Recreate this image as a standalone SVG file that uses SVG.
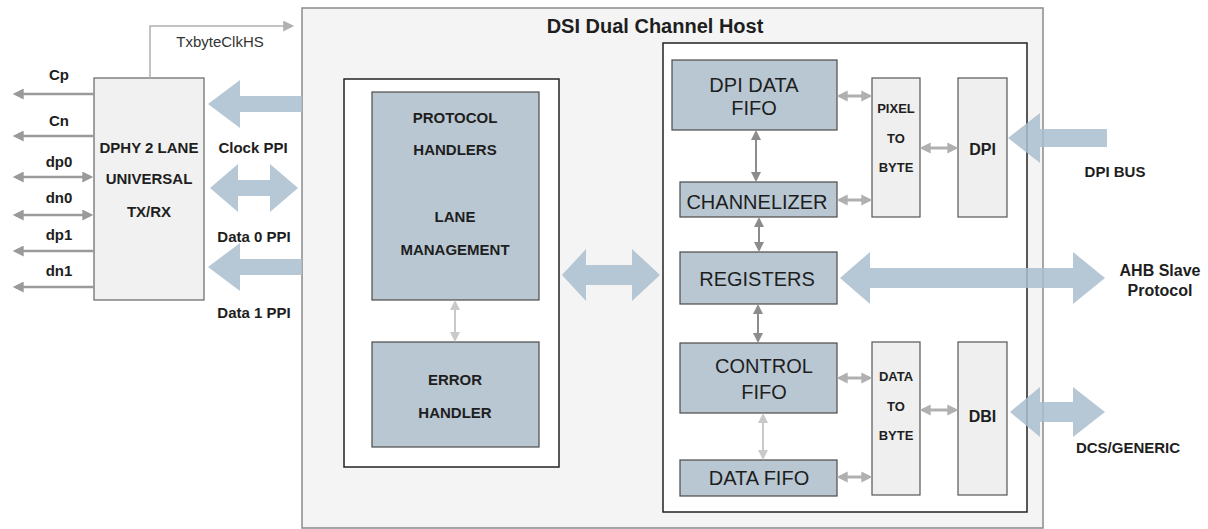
<svg xmlns="http://www.w3.org/2000/svg" width="1208" height="529" viewBox="0 0 1208 529">
<style>
text{font-family:"Liberation Sans",Arial,sans-serif;fill:#1e1e1e;text-anchor:middle}
.b{font-weight:bold}
.lbl{font-size:15px;font-weight:bold}
.blk{font-size:20px}
.sm{font-size:13px;font-weight:bold}
.mid{font-size:15px;font-weight:bold}
.outer{fill:#f4f4f4;stroke:#8a8a8a;stroke-width:1.5}
.wbox{fill:#ffffff;stroke:#222;stroke-width:1.5}
.blue{fill:#b9c7d3;stroke:#4a4a4a;stroke-width:1.2}
.gray{fill:#efefef;stroke:#555;stroke-width:1.2}
.phy{fill:#f1f1f1;stroke:#666;stroke-width:1.2}
.big{fill:#a9bdce;fill-opacity:0.85}
.lt{stroke:#b0b0b0;stroke-width:3;fill:none}
.dk{stroke:#8c8c8c;stroke-width:2;fill:none}
.xl{stroke:#c9c9c9;stroke-width:2;fill:none}
.sig{stroke:#9a9a9a;stroke-width:2.5;fill:none}
.tx{stroke:#b0b0b0;stroke-width:1.5;fill:none}
</style>
<defs>
<marker id="mLt" viewBox="0 0 10 10" refX="7" refY="5" markerWidth="11" markerHeight="12" markerUnits="userSpaceOnUse" orient="auto-start-reverse"><path d="M0,0 L10,5 L0,10 z" fill="#b0b0b0"/></marker>
<marker id="mDk" viewBox="0 0 10 10" refX="7" refY="5" markerWidth="10" markerHeight="11" markerUnits="userSpaceOnUse" orient="auto-start-reverse"><path d="M0,0 L10,5 L0,10 z" fill="#8c8c8c"/></marker>
<marker id="mXl" viewBox="0 0 10 10" refX="7" refY="5" markerWidth="10" markerHeight="11" markerUnits="userSpaceOnUse" orient="auto-start-reverse"><path d="M0,0 L10,5 L0,10 z" fill="#c9c9c9"/></marker>
<marker id="mSig" viewBox="0 0 10 10" refX="7" refY="5" markerWidth="12" markerHeight="11" markerUnits="userSpaceOnUse" orient="auto-start-reverse"><path d="M0,0 L10,5 L0,10 z" fill="#9a9a9a"/></marker>
<marker id="mTx" viewBox="0 0 10 10" refX="8" refY="5" markerWidth="12" markerHeight="11" markerUnits="userSpaceOnUse" orient="auto-start-reverse"><path d="M0,0 L10,5 L0,10 z" fill="#b0b0b0"/></marker>
</defs>

<g id="dsi-host">
<rect class="outer" x="302" y="8" width="741" height="520"/>
<text class="b" x="655" y="33" font-size="20">DSI Dual Channel Host</text>
</g>

<g id="dphy">
<rect class="phy" x="94" y="78" width="110" height="222"/>
<text class="lbl" x="149" y="153">DPHY 2 LANE</text>
<text class="lbl" x="149" y="184">UNIVERSAL</text>
<text class="lbl" x="149" y="217">TX/RX</text>
</g>

<g id="left-core">
<rect class="wbox" x="344" y="79" width="215" height="388"/>
</g>
<g id="protocol-handlers">
<rect class="blue" x="372" y="92" width="167" height="208"/>
<text class="mid" x="455" y="123">PROTOCOL</text>
<text class="mid" x="455" y="155">HANDLERS</text>
<text class="mid" x="455" y="222">LANE</text>
<text class="mid" x="455" y="255">MANAGEMENT</text>
</g>
<g id="error-handler">
<rect class="blue" x="372" y="342" width="167" height="105"/>
<text class="mid" x="455" y="385">ERROR</text>
<text class="mid" x="455" y="418">HANDLER</text>
</g>

<g id="right-core">
<rect class="wbox" x="663" y="43" width="364" height="469"/>
</g>
<g id="dpi-data-fifo">
<rect class="blue" x="672" y="60" width="165" height="70"/>
<text class="blk" x="754" y="92">DPI DATA</text>
<text class="blk" x="754" y="115">FIFO</text>
</g>
<g id="channelizer">
<rect class="blue" x="680" y="182" width="157" height="35"/>
<text class="blk" x="757" y="209">CHANNELIZER</text>
</g>
<g id="registers">
<rect class="blue" x="680" y="252" width="157" height="52"/>
<text class="blk" x="757" y="286">REGISTERS</text>
</g>
<g id="control-fifo">
<rect class="blue" x="680" y="343" width="157" height="70"/>
<text class="blk" x="764" y="373">CONTROL</text>
<text class="blk" x="764" y="399">FIFO</text>
</g>
<g id="data-fifo">
<rect class="blue" x="680" y="460" width="157" height="36"/>
<text class="blk" x="759" y="485">DATA FIFO</text>
</g>
<g id="pixel-to-byte">
<rect class="gray" x="872" y="78" width="48" height="139"/>
<text class="sm" x="896" y="113">PIXEL</text>
<text class="sm" x="896" y="143">TO</text>
<text class="sm" x="896" y="172">BYTE</text>
</g>
<g id="dpi">
<rect class="gray" x="958" y="78" width="49" height="139"/>
<text class="b" x="982.5" y="155" font-size="16">DPI</text>
</g>
<g id="data-to-byte">
<rect class="gray" x="872" y="342" width="48" height="153"/>
<text class="sm" x="896" y="381">DATA</text>
<text class="sm" x="896" y="411">TO</text>
<text class="sm" x="896" y="440">BYTE</text>
</g>
<g id="dbi">
<rect class="gray" x="958" y="342" width="49" height="153"/>
<text class="b" x="982.5" y="422" font-size="16">DBI</text>
</g>

<g id="connectors">
<!-- big bus arrows -->
<polygon class="big" points="208,104 240,80 240,96 302,96 302,112 240,112 240,128"/>
<polygon class="big" points="210,188 238,164 238,180 270,180 270,164 298,188 270,212 270,196 238,196 238,212"/>
<polygon class="big" points="208,267 240,243 240,259 302,259 302,275 240,275 240,291"/>
<polygon class="big" points="562,275 586,249 586,265 632,265 632,249 660,275 632,301 632,285 586,285 586,301"/>
<polygon class="big" points="840,278 870,252 870,268 1073,268 1073,252 1105,278 1073,304 1073,288 870,288 870,304"/>
<polygon class="big" points="1008,138 1040,113 1040,129 1107,129 1107,147 1040,147 1040,163"/>
<polygon class="big" points="1010,412 1040,387 1040,402 1073,402 1073,387 1105,412 1073,437 1073,422 1040,422 1040,437"/>
<!-- small internal arrows -->
<line class="lt" x1="840" y1="96" x2="869" y2="96" marker-start="url(#mLt)" marker-end="url(#mLt)"/>
<line class="lt" x1="840" y1="200" x2="869" y2="200" marker-start="url(#mLt)" marker-end="url(#mLt)"/>
<line class="lt" x1="923" y1="148" x2="955" y2="148" marker-start="url(#mLt)" marker-end="url(#mLt)"/>
<line class="lt" x1="840" y1="378" x2="869" y2="378" marker-start="url(#mLt)" marker-end="url(#mLt)"/>
<line class="lt" x1="840" y1="477" x2="869" y2="477" marker-start="url(#mLt)" marker-end="url(#mLt)"/>
<line class="lt" x1="923" y1="410" x2="955" y2="410" marker-start="url(#mLt)" marker-end="url(#mLt)"/>
<line class="dk" x1="756" y1="133" x2="756" y2="179" marker-start="url(#mDk)" marker-end="url(#mDk)"/>
<line class="dk" x1="759" y1="220" x2="759" y2="249" marker-start="url(#mDk)" marker-end="url(#mDk)"/>
<line class="dk" x1="758" y1="307" x2="758" y2="340" marker-start="url(#mDk)" marker-end="url(#mDk)"/>
<line class="xl" x1="763" y1="416" x2="763" y2="457" marker-start="url(#mXl)" marker-end="url(#mXl)"/>
<line class="xl" x1="455" y1="303" x2="455" y2="339" marker-start="url(#mXl)" marker-end="url(#mXl)"/>
<!-- PHY pins -->
<line class="sig" x1="94" y1="94" x2="16" y2="94" marker-end="url(#mSig)"/>
<line class="sig" x1="94" y1="136" x2="16" y2="136" marker-end="url(#mSig)"/>
<line class="sig" x1="90" y1="177" x2="16" y2="177" marker-start="url(#mSig)" marker-end="url(#mSig)"/>
<line class="sig" x1="90" y1="215" x2="16" y2="215" marker-start="url(#mSig)" marker-end="url(#mSig)"/>
<line class="sig" x1="94" y1="251" x2="16" y2="251" marker-end="url(#mSig)"/>
<line class="sig" x1="94" y1="287" x2="16" y2="287" marker-end="url(#mSig)"/>
<!-- clock line -->
<path class="tx" d="M150,78 V26 H292" marker-end="url(#mTx)"/>
</g>

<g id="labels">
<text x="220" y="47" font-size="15" style="fill:#333">TxbyteClkHS</text>
<text class="lbl" x="59" y="80">Cp</text>
<text class="lbl" x="59" y="126">Cn</text>
<text class="lbl" x="59" y="167">dp0</text>
<text class="lbl" x="59" y="203">dn0</text>
<text class="lbl" x="59" y="240">dp1</text>
<text class="lbl" x="59" y="276">dn1</text>
<text class="lbl" x="253" y="153">Clock PPI</text>
<text class="lbl" x="254" y="242">Data 0 PPI</text>
<text class="lbl" x="254" y="318">Data 1 PPI</text>
<text class="lbl" x="1115" y="177">DPI BUS</text>
<text class="b" x="1160" y="276" font-size="16">AHB Slave</text>
<text class="b" x="1160" y="296" font-size="16">Protocol</text>
<text class="lbl" x="1128" y="453">DCS/GENERIC</text>
</g>
</svg>
